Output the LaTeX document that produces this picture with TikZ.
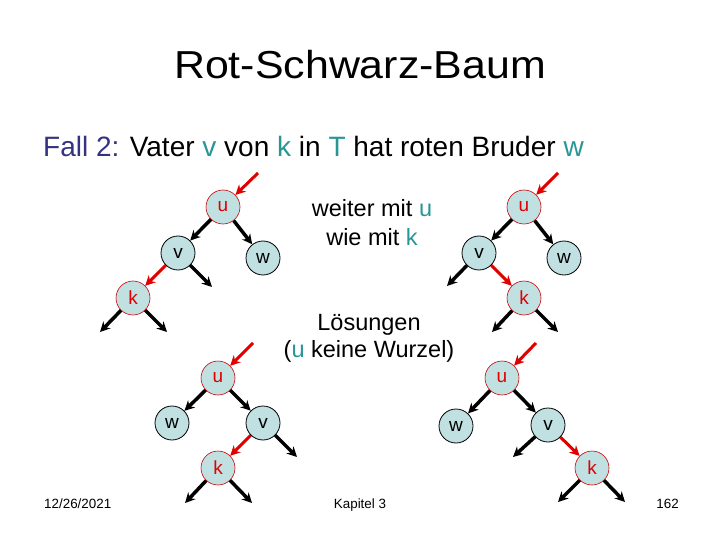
\documentclass[tikz,border=0pt]{standalone}
\usepackage{fontspec}
\setmainfont{Liberation Sans}
\usetikzlibrary{arrows.meta}
\definecolor{nodefill}{RGB}{192,224,226}
\definecolor{rbred}{RGB}{225,0,0}
\definecolor{hlteal}{RGB}{40,150,150}
\definecolor{hlblue}{RGB}{51,51,130}
\begin{document}
\begin{tikzpicture}[x=1pt,y=-1pt,
  rb/.style={circle,minimum size=34pt,inner sep=0pt,fill=nodefill,font=\fontsize{19}{19}\selectfont},
  rnode/.style={rb,draw=red!80!black,line width=0.6pt,text=rbred},
  bnode/.style={rb,draw=black,line width=0.8pt,text=black},
  barr/.style={line width=3.5pt,-{Stealth[length=10pt,width=10pt]},black},
  rarr/.style={line width=3pt,-{Stealth[length=10pt,width=10pt]},rbred},
  txt/.style={inner sep=0pt,anchor=base}]
\useasboundingbox (0,0) rectangle (720,540);

% texts
\node[txt,font=\fontsize{39}{39}\selectfont] (title) at (360,79) {\scalebox{1.1}[1]{Rot-Schwarz-Baum}};
\node[txt,anchor=base west,font=\fontsize{28}{28}\selectfont] (sub) at (43,157)
  {\textcolor{hlblue}{Fall 2:} Vater \textcolor{hlteal}{v} von \textcolor{hlteal}{k} in \textcolor{hlteal}{T} hat roten Bruder \textcolor{hlteal}{w}};
\node[txt,font=\fontsize{23.5}{23.5}\selectfont] (t1) at (372,217) {weiter mit \textcolor{hlteal}{u}};
\node[txt,font=\fontsize{23.5}{23.5}\selectfont] (t2) at (372,245) {wie mit \textcolor{hlteal}{k}};
\node[txt,font=\fontsize{23.5}{23.5}\selectfont] (t3) at (369,330) {Lösungen};
\node[txt,font=\fontsize{23.5}{23.5}\selectfont] (t4) at (369,357) {(\textcolor{hlteal}{u} keine Wurzel)};
\node[txt,anchor=base west,font=\fontsize{13.4}{13.4}\selectfont] (date) at (44,508) {12/26/2021};
\node[txt,font=\fontsize{13.4}{13.4}\selectfont] (chap) at (360,508) {Kapitel 3};
\node[txt,anchor=base east,font=\fontsize{13.4}{13.4}\selectfont] (page) at (679,508) {162};

% tree 1
\node[rnode] (u1) at (223,207) {u};
\node[bnode] (v1) at (178,253) {v};
\node[bnode] (w1) at (263,258) {w};
\node[rnode] (k1) at (133,298) {k};
\coordinate (u1in) at (258,173);
\coordinate (v1s) at (212,287);
\coordinate (k1a) at (100,332);
\coordinate (k1b) at (167,332);
\draw[rarr] (u1in) -- (u1);
\draw[barr] (u1) -- (v1);
\draw[barr] (u1) -- (w1);
\draw[rarr] (v1) -- (k1);
\draw[barr] (v1) -- (v1s);
\draw[barr] (k1) -- (k1a);
\draw[barr] (k1) -- (k1b);

% tree 2
\node[rnode] (u2) at (524,207) {u};
\node[bnode] (v2) at (479,253) {v};
\node[bnode] (w2) at (564,258) {w};
\node[rnode] (k2) at (524,298) {k};
\coordinate (u2in) at (558,173);
\coordinate (v2s) at (447,286);
\coordinate (k2a) at (492,332);
\coordinate (k2b) at (558,332);
\draw[rarr] (u2in) -- (u2);
\draw[barr] (u2) -- (v2);
\draw[barr] (u2) -- (w2);
\draw[rarr] (v2) -- (k2);
\draw[barr] (v2) -- (v2s);
\draw[barr] (k2) -- (k2a);
\draw[barr] (k2) -- (k2b);

% tree 3
\node[rnode] (u3) at (218,378) {u};
\node[bnode] (w3) at (172,423) {w};
\node[bnode] (v3) at (263,423) {v};
\node[rnode] (k3) at (218,468) {k};
\coordinate (u3in) at (253,343);
\coordinate (v3s) at (297,457);
\coordinate (k3a) at (185,503);
\coordinate (k3b) at (252,503);
\draw[rarr] (u3in) -- (u3);
\draw[barr] (u3) -- (w3);
\draw[barr] (u3) -- (v3);
\draw[rarr] (v3) -- (k3);
\draw[barr] (v3) -- (v3s);
\draw[barr] (k3) -- (k3a);
\draw[barr] (k3) -- (k3b);

% tree 4
\node[rnode] (u4) at (502,378) {u};
\node[bnode] (w4) at (456,426) {w};
\node[bnode] (v4) at (548,425) {v};
\node[rnode] (k4) at (592,468) {k};
\coordinate (u4in) at (536,343);
\coordinate (v4s) at (513,457);
\coordinate (k4a) at (558,502);
\coordinate (k4b) at (625,502);
\draw[rarr] (u4in) -- (u4);
\draw[barr] (u4) -- (w4);
\draw[barr] (u4) -- (v4);
\draw[rarr] (v4) -- (k4);
\draw[barr] (v4) -- (v4s);
\draw[barr] (k4) -- (k4a);
\draw[barr] (k4) -- (k4b);
\end{tikzpicture}
\end{document}
